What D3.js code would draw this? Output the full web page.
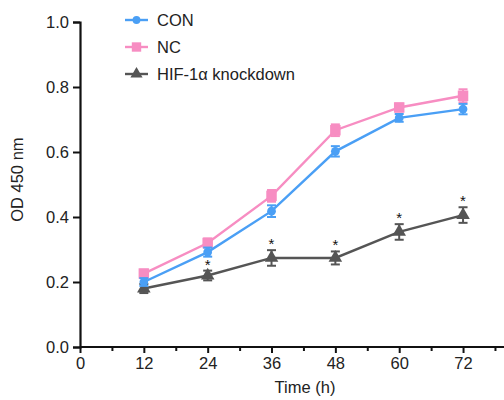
<!DOCTYPE html>
<html><head><meta charset="utf-8">
<script src="https://cdn.jsdelivr.net/npm/d3@7"></script>
<style>body{margin:0;background:#fff}svg{display:block}</style>
</head><body>
<script>
const times = [12, 24, 36, 48, 60, 72];
const conMean = [0.200, 0.292, 0.418, 0.602, 0.705, 0.732];
const conErr  = [0.012, 0.014, 0.018, 0.016, 0.012, 0.016];
const ncMean  = [0.226, 0.320, 0.465, 0.667, 0.737, 0.773];
const ncErr   = [0.012, 0.014, 0.018, 0.018, 0.012, 0.020];
const hifMean = [0.180, 0.220, 0.274, 0.274, 0.354, 0.406];
const hifErr  = [0.014, 0.015, 0.024, 0.020, 0.024, 0.024];
const sigFlags = [false, true, true, true, true, true];
const yTicks = [0.0, 0.2, 0.4, 0.6, 0.8, 1.0];
const xLabelTicks = [0, 12, 24, 36, 48, 60, 72];
const xMinorTicks = [6, 18, 30, 42, 54, 66, 78];
const seriesNames = ["CON", "NC", "HIF-1\u03b1 knockdown"];

const W = 504, H = 400;
const svg = d3.select("body").append("svg").attr("width", W).attr("height", H);
const font = "Liberation Sans, Arial, Helvetica, sans-serif";
const fs = 16.5;
const x = d3.scaleLinear().domain([0, 80]).range([80, 505.6]);
const y = d3.scaleLinear().domain([0, 1]).range([347, 22]);

const series = [
  {name: seriesNames[0], mean: conMean, err: conErr, color: "#4a9ff5", shape: d3.symbolCircle, size: 60},
  {name: seriesNames[1], mean: ncMean, err: ncErr, color: "#f78dc2", shape: d3.symbolSquare, size: 110},
  {name: seriesNames[2], mean: hifMean, err: hifErr, color: "#555555", shape: d3.symbolTriangle, size: 80}
];

// axes
const yAxis = d3.axisLeft(y).tickValues(yTicks).tickFormat(d3.format(".1f")).tickSize(7).tickPadding(4);
const gy = svg.append("g").attr("transform", `translate(${x(0)},0)`).call(yAxis);
const xAxis = d3.axisBottom(x).tickValues(xLabelTicks).tickSize(6).tickPadding(4);
const gx = svg.append("g").attr("transform", `translate(0,${y(0)})`).call(xAxis);
const xMinor = d3.axisBottom(x).tickValues(xMinorTicks).tickSize(4).tickFormat("");
const gxm = svg.append("g").attr("transform", `translate(0,${y(0)})`).call(xMinor);
[gy, gx, gxm].forEach(g => {
  g.selectAll(".domain").attr("stroke", "#111").attr("stroke-width", 2.2);
  g.selectAll(".tick line").attr("stroke", "#111").attr("stroke-width", 2);
  g.selectAll("text").attr("font-family", font).attr("font-size", fs).attr("fill", "#222");
});
gx.select(".domain").attr("d", `M${x(0)},0H${W}`);
gxm.select(".domain").remove();

// axis titles
svg.append("text").attr("x", 305).attr("y", 393).attr("text-anchor", "middle")
  .attr("font-family", font).attr("font-size", fs).attr("fill", "#222").text("Time (h)");
svg.append("text").attr("transform", `translate(23,${y(0.515)}) rotate(-90)`).attr("text-anchor", "middle")
  .attr("font-family", font).attr("font-size", fs).attr("fill", "#222").text("OD 450 nm");

const line = d3.line().x(d => x(d[0])).y(d => y(d[1]));

series.slice().reverse().forEach(s => {
  const pts = times.map((t, i) => [t, s.mean[i], s.err[i]]);
  const g = svg.append("g");
  g.append("path").datum(pts).attr("d", line).attr("fill", "none")
    .attr("stroke", s.color).attr("stroke-width", 2.4);
  pts.forEach(p => {
    const cx = x(p[0]), y1 = y(p[1] + p[2]), y2 = y(p[1] - p[2]);
    g.append("line").attr("x1", cx).attr("x2", cx).attr("y1", y1).attr("y2", y2).attr("stroke", s.color).attr("stroke-width", 2);
    g.append("line").attr("x1", cx - 4.5).attr("x2", cx + 4.5).attr("y1", y1).attr("y2", y1).attr("stroke", s.color).attr("stroke-width", 2);
    g.append("line").attr("x1", cx - 4.5).attr("x2", cx + 4.5).attr("y1", y2).attr("y2", y2).attr("stroke", s.color).attr("stroke-width", 2);
    g.append("path").attr("d", d3.symbol().type(s.shape).size(s.size)())
      .attr("transform", `translate(${cx},${y(p[1])})`).attr("fill", s.color);
  });
});

// significance stars
times.forEach((t, i) => {
  if (!sigFlags[i]) return;
  svg.append("text").attr("x", x(t)).attr("y", y(hifMean[i] + hifErr[i]) - 1)
    .attr("text-anchor", "middle").attr("font-family", font).attr("font-size", 15).attr("fill", "#111").text("*");
});

// legend
series.forEach((s, i) => {
  const ly = 20 + i * 27;
  const g = svg.append("g");
  g.append("line").attr("x1", 125).attr("x2", 148).attr("y1", ly).attr("y2", ly).attr("stroke", s.color).attr("stroke-width", 2.4);
  g.append("path").attr("d", d3.symbol().type(s.shape).size(s.size * 0.8)()).attr("transform", `translate(136.5,${ly})`).attr("fill", s.color);
  g.append("text").attr("x", 157).attr("y", ly + 6).attr("font-family", font).attr("font-size", fs).attr("fill", "#222").text(s.name);
});
</script>
</body></html>
